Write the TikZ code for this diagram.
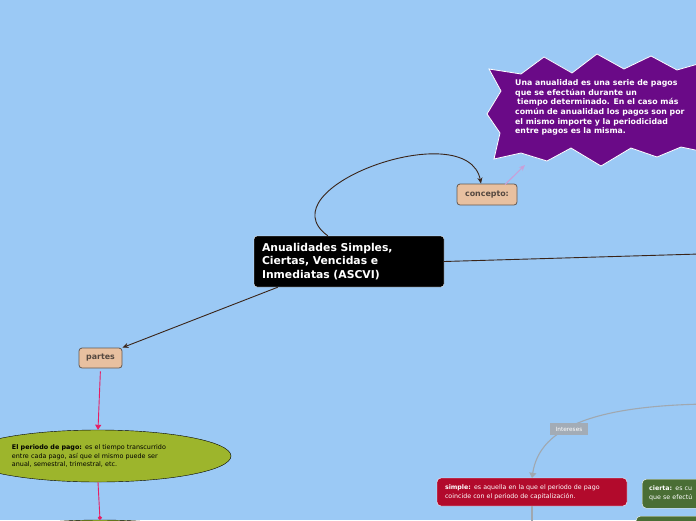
\documentclass[tikz,border=0pt]{standalone}
\usepackage{fontspec}
\setmainfont{DejaVu Sans}
\usetikzlibrary{arrows.meta,shapes.geometric}

\definecolor{bgblue}{RGB}{155,201,245}
\definecolor{tanfill}{RGB}{232,192,160}
\definecolor{tanline}{RGB}{100,88,80}
\definecolor{tantext}{RGB}{85,72,64}
\definecolor{burstpurple}{RGB}{106,10,135}
\definecolor{paleviolet}{RGB}{200,160,216}
\definecolor{olive}{RGB}{157,181,44}
\definecolor{crimson}{RGB}{178,10,44}
\definecolor{leafgreen}{RGB}{74,110,53}
\definecolor{linkbrown}{RGB}{58,36,24}
\definecolor{linkpink}{RGB}{230,30,100}
\definecolor{linkgray}{RGB}{160,168,176}
\definecolor{labelgray}{RGB}{163,172,182}

\tikzset{
  topic/.style={draw=white, fill=black, rounded corners=3pt, text=white,
    font=\fontsize{10.8}{13.5}\selectfont\bfseries, align=left,
    text width=174pt, inner xsep=8pt, minimum height=51pt},
  tag/.style={draw=tanline, fill=tanfill, rounded corners=3pt, text=tantext,
    font=\fontsize{7.9}{9}\selectfont\bfseries, inner sep=0pt, line width=0.8pt},
  period/.style={ellipse, draw=black, fill=olive, inner sep=0pt,
    minimum width=266pt, minimum height=52pt, text width=172pt, align=left,
    font=\fontsize{6.4}{8.4}\selectfont},
  redbox/.style={draw=white, fill=crimson, rounded corners=4pt, text=white,
    font=\fontsize{6.3}{9}\selectfont, align=left, text width=174pt,
    inner xsep=8pt, minimum height=28pt},
  greenbox/.style={draw=white, fill=leafgreen, rounded corners=4pt, text=white,
    font=\fontsize{6.3}{9}\selectfont, align=left, text width=176pt,
    inner xsep=7pt, minimum height=29pt},
  bursttext/.style={text=white, font=\fontsize{7.8}{9.6}\selectfont\bfseries,
    align=left, inner sep=0pt},
  intlabel/.style={fill=labelgray, text=white, font=\fontsize{5.8}{7}\selectfont,
    minimum width=38pt, minimum height=12pt, inner sep=1pt},
  conn/.style={draw=linkbrown, line width=0.9pt},
  pinkconn/.style={draw=linkpink, line width=0.9pt},
  grayconn/.style={draw=linkgray, line width=1.1pt},
  paleconn/.style={draw=paleviolet, line width=1.1pt}
}

\begin{document}
\begin{tikzpicture}[x=1pt, y=-1pt]
  % Canvas
  \useasboundingbox (0,0) rectangle (696,520);
  \clip (0,0) rectangle (696,520);
  \fill[bgblue] (0,0) rectangle (696,520);

  % Definition burst
  \filldraw[fill=burstpurple, draw=white, line width=0.8pt]
    (489,69) -- (521,74) -- (544,57) -- (572,73) -- (597,54) -- (624,69)
    -- (651,56) -- (677,70) -- (705,62) -- (705,152) -- (681,147)
    -- (657,157) -- (631,148) -- (601,166) -- (571,148) -- (547,161)
    -- (521,153) -- (494,159) -- (500,133) -- (487,114) -- (501,91) -- cycle;
  \node[bursttext, anchor=north west] (def) at (515,79.5)
    {Una anualidad es una serie de pagos\\
     que se efectúan durante un\\
     \hspace{2pt}tiempo determinado. En el caso más\\
     común de anualidad los pagos son por\\
     el mismo importe y la periodicidad\\
     entre pagos es la misma.};
  \coordinate (burstTip) at (525,165);

  % Central topic and tags
  \node[topic] (main) at (349,261.5)
    {Anualidades Simples,\\Ciertas, Vencidas e\\Inmediatas (ASCVI)};
  \node[tag, minimum width=60pt, minimum height=21pt] (concepto) at (487,194.5) {concepto:};
  \node[tag, minimum width=43pt, minimum height=20pt] (partes) at (100.5,358) {partes};

  % Parts
  \node[period] (periodo) at (98,456)
    {\textbf{El periodo de pago:} es el tiempo transcurrido\\
     entre cada pago, así que el mismo puede ser\\
     anual, semestral, trimestral, etc.};
  \node[period] (tipo) at (100,546) {};

  % Interest types
  \node[redbox] (simple) at (532,492)
    {\textbf{simple:} es aquella en la que el periodo de pago\\
     coincide con el periodo de capitalización.};
  \node[greenbox, anchor=north west] (cierta) at (642,479)
    {\textbf{cierta:} es cu\\que se efectú};
  \node[greenbox, anchor=north west] (vencida) at (636,516) {};

  % Connectors
  \coordinate (rightEnd) at (720,253.4);
  \coordinate (intStart) at (705,404);
  \coordinate (simpleDown) at (532,540);
  \draw[conn, -{Stealth[length=6pt,width=5pt]}] ([xshift=74pt]main.north west)
    .. controls (262,188) and (468,114) .. ([xshift=-6pt]concepto.north);
  \draw[paleconn, -{Stealth[length=6pt,width=5pt]}] ([xshift=18pt,yshift=-1pt]concepto.north) -- (burstTip);
  \draw[conn] (main.east) -- (rightEnd);
  \draw[conn, -{Stealth[length=6pt,width=5pt]}] ([xshift=24pt]main.south west) -- (partes.north east);
  \draw[pinkconn, shorten <=3pt, -{Triangle[length=5pt,width=6pt]}] (partes.south) -- (periodo.north);
  \draw[pinkconn, -{Circle[length=4pt]}] (periodo.south) -- (tipo.north);
  \draw[grayconn, -{Triangle[length=5pt,width=7pt]}] (intStart)
    .. controls (600,406) and (540,425) .. (simple.north);
  \draw[grayconn] (simple.south) -- (simpleDown);
  \node[intlabel] (intereses) at (569,429) {Intereses};
\end{tikzpicture}
\end{document}
